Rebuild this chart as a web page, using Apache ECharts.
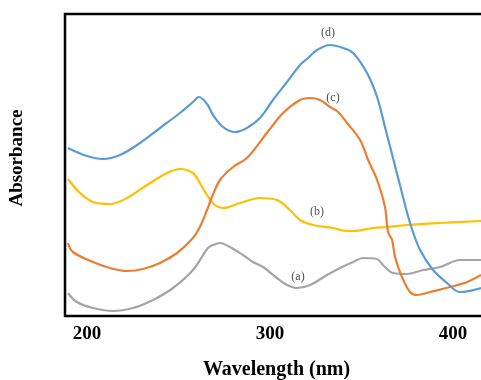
<!DOCTYPE html>
<html>
<head>
<meta charset="utf-8">
<script src="https://cdn.jsdelivr.net/npm/echarts@6/dist/echarts.min.js"></script>
<style>html,body{margin:0;padding:0;background:#fff}#c{width:481px;height:380px}</style>
</head>
<body>
<div id="c"></div>
<script>
// Wavelength (nm), absorbance (arbitrary units) pairs
var seriesA = [[189.6,0.23],[194.5,0.14],[203.3,0.08],[214.2,0.05],[225.1,0.08],[236.1,0.16],[247,0.28],[257.9,0.46],[266.1,0.68],[268.9,0.71],[272.7,0.73],[278.1,0.69],[285.2,0.61],[290.7,0.54],[296.2,0.49],[303.8,0.38],[309.3,0.31],[314.8,0.28],[321.9,0.31],[331.1,0.41],[338.3,0.48],[345.4,0.54],[350.8,0.58],[358.5,0.57],[361.7,0.51],[367.2,0.43],[374.9,0.42],[383.6,0.46],[392.9,0.49],[403.8,0.56],[415.3,0.56]];
var seriesB = [[189.6,1.37],[196.2,1.23],[203.3,1.14],[212.6,1.12],[221.9,1.18],[232.8,1.31],[243.7,1.43],[250.8,1.47],[257.9,1.43],[261.7,1.33],[265.6,1.21],[269.9,1.11],[274.3,1.08],[283.6,1.13],[294.5,1.18],[303.8,1.16],[310.9,1.06],[316.4,0.96],[323.5,0.91],[334.4,0.88],[342.1,0.85],[345.4,0.85],[356.3,0.88],[363.9,0.89],[374.9,0.91],[392.9,0.93],[415.3,0.95]];
var seriesC = [[189.6,0.73],[192.3,0.64],[203.3,0.54],[212.6,0.48],[221.9,0.45],[230.6,0.47],[239.9,0.53],[249.2,0.63],[257.9,0.78],[261.7,0.89],[265.6,1.06],[268.3,1.19],[272.7,1.36],[279.8,1.49],[287.4,1.58],[299.5,1.86],[307.1,2.03],[316.4,2.16],[321.9,2.18],[327.3,2.16],[332.8,2.09],[337.2,2.04],[342.1,1.93],[349.2,1.76],[353.6,1.56],[358.5,1.36],[362.8,1.09],[364.5,0.84],[366.7,0.76],[368.3,0.59],[372.1,0.39],[376.5,0.24],[380.3,0.21],[387.4,0.24],[398.4,0.29],[407.7,0.34],[415.3,0.41]];
var seriesD = [[189.6,1.68],[200,1.60],[208.7,1.57],[218,1.61],[229,1.73],[239.9,1.88],[250.8,2.03],[257.9,2.14],[261.2,2.19],[265.6,2.12],[268.9,2.01],[274.3,1.89],[280.9,1.84],[287.4,1.88],[294.5,1.98],[301.6,2.16],[309.3,2.34],[316.4,2.51],[320.8,2.58],[325.7,2.66],[332.8,2.71],[339.9,2.68],[345.4,2.63],[353,2.43],[358.5,2.19],[362.8,1.89],[367.2,1.58],[372.1,1.23],[376.5,0.93],[382,0.66],[389.1,0.46],[396.7,0.33],[403.8,0.24],[415.3,0.28]];
var curveNames = ['(a)','(b)','(c)','(d)'];
var curveLabels = [['(a)',315.3,0.39],['(b)',325.7,1.04],['(c)',334.4,2.18],['(d)',331.7,2.83]];
var xTicks = [200,300,400];

var colors = ['#A5A5A5','#FFC000','#ED7D31','#5B9BD5'];
var datasets = [seriesA, seriesB, seriesC, seriesD];
var serif = '"Liberation Serif","Times New Roman",serif';

var series = datasets.map(function(d,i){
  return {name:curveNames[i], type:'line', data:d, smooth:0.35, symbol:'none',
    lineStyle:{color:colors[i], width:2.2}, z:3};
});
series.push({
  type:'scatter', symbolSize:0, silent:true, z:5,
  data: curveLabels.map(function(l){return {name:l[0], value:[l[1],l[2]]};}),
  label:{show:true, position:'inside', formatter:'{b}', color:'#222', fontFamily:serif, fontSize:12}
});

var chart = echarts.init(document.getElementById('c'), null, {renderer:'canvas'});
chart.setOption({
  animation:false,
  backgroundColor:'#fff',
  grid:{left:65, right:-5, top:14, bottom:64, containLabel:false, outerBoundsMode:'none',
    show:true, borderColor:'#000', borderWidth:2.5, backgroundColor:'transparent'},
  xAxis:{type:'value', min:188, max:418,
    axisLine:{show:false}, axisTick:{show:false}, splitLine:{show:false},
    axisLabel:{customValues:xTicks, color:'#000', fontFamily:serif, fontWeight:'bold', fontSize:19, margin:9},
    name:'Wavelength (nm)', nameLocation:'middle', nameGap:44,
    nameTextStyle:{color:'#000', fontFamily:serif, fontWeight:'bold', fontSize:20, padding:[0,0,0,2]}
  },
  yAxis:{type:'value', min:0, max:3.02,
    axisLine:{show:false}, axisTick:{show:false}, splitLine:{show:false}, axisLabel:{show:false},
    name:'Absorbance', nameLocation:'middle', nameGap:38,
    nameTextStyle:{color:'#000', fontFamily:serif, fontWeight:'bold', fontSize:19, padding:[0,0,0,14]}
  },
  series:series
});
</script>
</body>
</html>
